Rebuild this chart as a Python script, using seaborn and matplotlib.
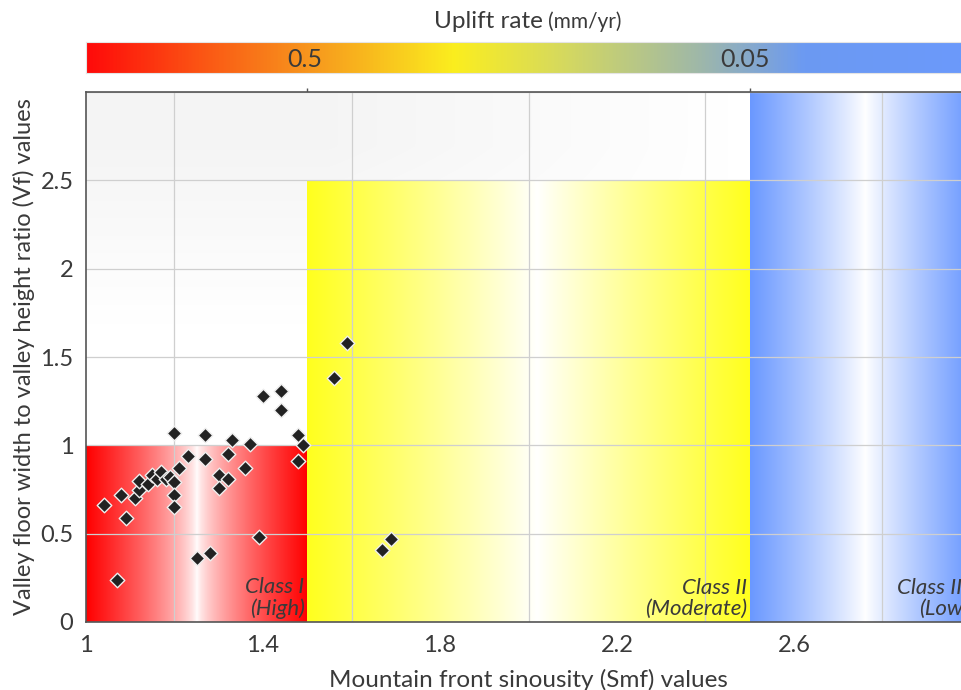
import numpy as np
import matplotlib
matplotlib.use("Agg")
import matplotlib.pyplot as plt
from matplotlib.colors import LinearSegmentedColormap, to_rgb
import seaborn as sns
import pandas as pd

# Valley floor width/height ratio (Vf) against mountain front sinuosity (Smf)
smf = [1.04, 1.08, 1.09, 1.07, 1.11, 1.12, 1.12, 1.14, 1.15, 1.16, 1.17, 1.18,
       1.19, 1.20, 1.20, 1.20, 1.21, 1.23, 1.20, 1.25, 1.27, 1.27, 1.28, 1.30,
       1.30, 1.32, 1.32, 1.33, 1.36, 1.37, 1.39, 1.40, 1.44, 1.44, 1.48, 1.49,
       1.48, 1.56, 1.59, 1.67, 1.69]
vf = [0.66, 0.72, 0.59, 0.24, 0.70, 0.75, 0.80, 0.78, 0.83, 0.81, 0.85, 0.81,
      0.82, 0.79, 0.72, 0.65, 0.87, 0.94, 1.07, 0.36, 1.06, 0.92, 0.39, 0.83,
      0.76, 0.81, 0.95, 1.03, 0.87, 1.01, 0.48, 1.28, 1.31, 1.20, 1.06, 1.00,
      0.91, 1.38, 1.58, 0.41, 0.47]

# Tectonic activity classes: Smf range, Vf ceiling, colour and label
class_left = [1.0, 1.5, 2.5]
class_right = [1.5, 2.5, 3.0]
class_top = [1.0, 2.5, 3.0]
class_white_at = [1.25, 2.02, 2.76]
class_colors = ["#ff0000", "#ffff1e", "#6a98ff"]
class_gamma = [0.7, 0.9, 0.9]
class_labels = ["Class I\n(High)", "Class II\n(Moderate)", "Class III\n(Low)"]

x_ticks = [1.0, 1.4, 1.8, 2.2, 2.6]
x_grid = [1.2, 1.4, 1.6, 1.8, 2.0, 2.2, 2.4, 2.6, 2.8]
y_ticks = [0, 0.5, 1, 1.5, 2, 2.5, 3]
y_ticklabels = ["0", "0.5", "1", "1.5", "2", "2.5", ""]

# Uplift-rate colour bar
uplift_stops = [0.0, 0.13, 0.25, 0.42, 0.54, 0.70, 0.82, 1.0]
uplift_colors = ["#ff0a0a", "#fb5514", "#f7941d", "#fbee1f", "#d7da5c",
                 "#9fb8a8", "#6c9af2", "#6b99fb"]
uplift_marks = [(0.25, "0.5"), (0.752, "0.05")]

sns.set_theme(style="white")
plt.rcParams["font.family"] = ["Lato", "DejaVu Sans"]
text_color = "#3a3a3a"

fig = plt.figure(figsize=(9.62, 6.90), dpi=100)
ax = fig.add_axes([86 / 962, 68 / 690, 885 / 962, 530 / 690])

# faint grey wash in the upper-left background
gx = np.linspace(1.0, 3.0, 300)
gy = np.linspace(0.0, 3.0, 200)
GX, GY = np.meshgrid(gx, gy)
shade = 1 - 0.04 * np.clip((GY - 1.7) / 1.0, 0, 1) * np.clip((2.45 - GX) / 0.9, 0, 1)
bg = np.dstack([shade, shade, shade])
ax.imshow(bg, extent=(1.0, 3.0, 0.0, 3.0), origin="lower", aspect="auto",
          interpolation="bilinear", zorder=0.1)

# class bands: colour at both edges fading to white inside
for x0, x1, top, xw, col, g in zip(class_left, class_right, class_top,
                                   class_white_at, class_colors, class_gamma):
    xs = np.linspace(x0, x1, 400)
    t = np.where(xs < xw, (xw - xs) / (xw - x0), (xs - xw) / (x1 - xw))
    t = np.clip(t, 0, 1) ** g
    c = np.array(to_rgb(col))
    row = (1 - t)[:, None] * np.ones(3) + t[:, None] * c
    img = np.repeat(row[None, :, :], 2, axis=0)
    ax.imshow(img, extent=(x0, x1, 0, top), origin="lower", aspect="auto",
              interpolation="bilinear", zorder=0.2)

for x1, lab in zip(class_right, class_labels):
    ax.text(x1 - 0.006, 0.015, lab, ha="right", va="bottom", multialignment="right",
            fontsize=16, style="italic", color=text_color, zorder=2,
            linespacing=1.1)

df = pd.DataFrame({"Smf": smf, "Vf": vf})
sns.scatterplot(data=df, x="Smf", y="Vf", ax=ax, marker="D", s=55,
                color="#222222", edgecolor="#eeeeee", linewidth=1.0, zorder=3)

ax.set_xlim(1.0, 3.0)
ax.set_ylim(0, 3.0)
ax.set_xticks(x_ticks)
ax.set_xticklabels([f"{v:g}" for v in x_ticks])
ax.set_xticks(x_grid, minor=True)
ax.set_yticks(y_ticks)
ax.set_yticklabels(y_ticklabels)
ax.set_axisbelow(True)
ax.grid(False)
ax.xaxis.grid(True, which="minor", color="#cfcfcf", linewidth=0.9)
ax.yaxis.grid(True, which="major", color="#cfcfcf", linewidth=0.9)
ax.tick_params(axis="x", which="major", direction="out", length=5, width=1,
               color="#555555", labelsize=17, labelcolor=text_color, pad=4)
ax.tick_params(axis="x", which="minor", length=0)
ax.tick_params(axis="y", direction="out", length=4, width=1, color="#555555",
               labelsize=17, labelcolor=text_color, pad=5)
for side in ["left", "bottom", "top"]:
    ax.spines[side].set_visible(True)
    ax.spines[side].set_color("#555555")
    ax.spines[side].set_linewidth(1.2)
ax.spines["right"].set_visible(False)

top_ax = ax.secondary_xaxis("top")
top_ax.set_xticks([1.5, 2.5])
top_ax.set_xticklabels([])
top_ax.tick_params(direction="inout", length=6, width=1, color="#555555")
top_ax.spines["top"].set_visible(False)

ax.set_xlabel("Mountain front sinousity (Smf) values", fontsize=17.5,
              color=text_color, labelpad=10)
ax.set_ylabel("Valley floor width to valley height ratio (Vf) values",
              fontsize=17, color=text_color, labelpad=4)

# uplift-rate bar along the top
cax = fig.add_axes([86 / 962, (690 - 73) / 690, 876 / 962, 31 / 690])
cmap = LinearSegmentedColormap.from_list("uplift", list(zip(uplift_stops, uplift_colors)))
cax.imshow(np.linspace(0, 1, 512)[None, :], cmap=cmap, aspect="auto",
           extent=(0, 1, 0, 1), interpolation="bilinear")
cax.set_xlim(0, 1)
cax.set_ylim(0, 1)
cax.set_xticks([])
cax.set_yticks([])
for sp in cax.spines.values():
    sp.set_color("#e4e4e4")
    sp.set_linewidth(0.8)
for pos, lab in uplift_marks:
    cax.text(pos, 0.45, lab, ha="center", va="center", fontsize=18, color=text_color)

fig.text(543 / 962, 1 - 21 / 690, "Uplift rate", ha="right", va="center",
         fontsize=17.5, color=text_color)
fig.text(548 / 962, 1 - 22 / 690, "(mm/yr)", ha="left", va="center",
         fontsize=15, color=text_color)

fig.savefig("out.png", dpi=100)
